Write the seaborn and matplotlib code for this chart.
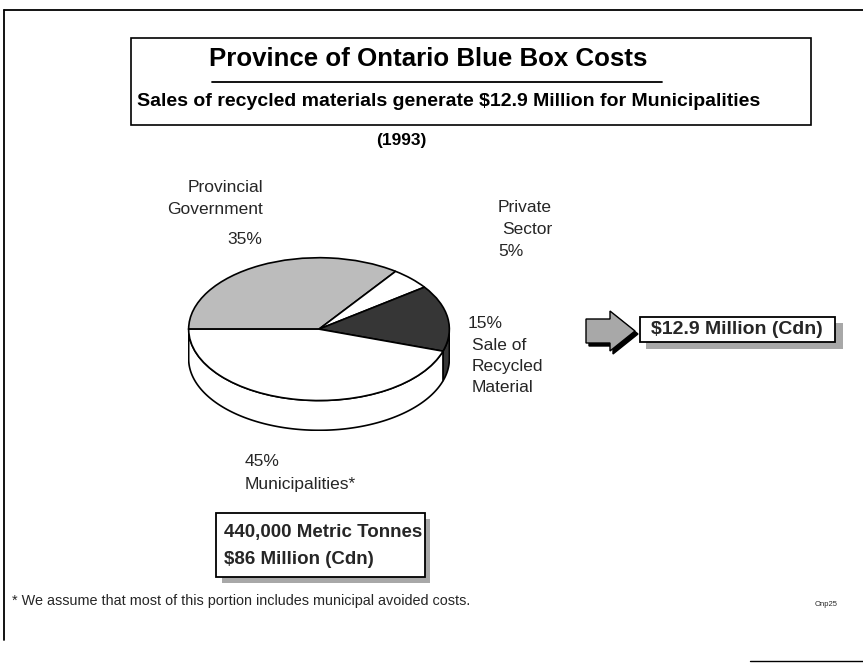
import numpy as np
import matplotlib
matplotlib.use("Agg")
import matplotlib.pyplot as plt
import matplotlib.patches as mpatches
import seaborn as sns

# ---------------- data ----------------
categories = ["Provincial Government", "Private Sector",
              "Sale of Recycled Material", "Municipalities*"]
shares = [35, 5, 15, 45]
label_lines = [["Provincial", "Government"], ["Private", "Sector"],
               ["Sale of", "Recycled", "Material"], ["Municipalities*"]]
title = "Province of Ontario Blue Box Costs"
subtitle = "Sales of recycled materials generate $12.9 Million for Municipalities"
year_text = "(1993)"
muni_box_lines = ["440,000 Metric Tonnes", "$86 Million (Cdn)"]
sale_box_text = "$12.9 Million (Cdn)"
footnote = "* We assume that most of this portion includes municipal avoided costs."
page_code = "Onp25"

# ---------------- style ----------------
sns.set_theme(style="white")
plt.rcParams["font.family"] = ["Liberation Sans", "DejaVu Sans"]
slice_colors = ["#bcbcbc", "#ffffff", "#363636", "#ffffff"]
stipple = "#a8a8a8"

W, H = 863, 667
fig = plt.figure(figsize=(W / 100, H / 100), dpi=100)
fig.patch.set_facecolor("white")

# overlay axes in pixel coordinates
ax = fig.add_axes([0, 0, 1, 1])
ax.set_xlim(0, W)
ax.set_ylim(H, 0)
ax.axis("off")

# outer page frame
ax.plot([4, 4], [10, 640], color="black", lw=1.3)
ax.plot([4, 863], [10, 10], color="black", lw=1.3)
ax.plot([750, 863], [661, 661], color="black", lw=1.0)

# title box
ax.add_patch(mpatches.Rectangle((131, 38), 680, 87, fill=False,
                                edgecolor="black", lw=1.2))
ax.text(428, 59, title, ha="center", va="center", fontsize=18.6,
        fontweight="bold", color="black")
ax.plot([212, 662], [82, 82], color="black", lw=1.3)
ax.text(449, 102, subtitle, ha="center", va="center", fontsize=14,
        fontweight="bold", color="black")
ax.text(401, 141, year_text, ha="center", va="center", fontsize=12.5,
        fontweight="bold", color="black")

# ---------------- 3D pie ----------------
cx, cy, a_px, b_px, depth_px = 319, 329, 131, 72, 30
d = depth_px / b_px
top_px = cy - b_px
bot_px = cy + b_px + depth_px
axp = fig.add_axes([(cx - a_px) / W, 1 - bot_px / H,
                    2 * a_px / W, (bot_px - top_px) / H])
axp.patch.set_alpha(0)
wedges, _ = axp.pie(shares, startangle=180, counterclock=False,
                    colors=slice_colors,
                    wedgeprops=dict(edgecolor="black", linewidth=1.2))
# side walls of the visible (front) half
for w in wedges:
    t = np.radians(np.linspace(w.theta1, w.theta2, 200))
    t = t[np.sin(t) <= 1e-9]
    if t.size < 2:
        continue
    xs = np.concatenate([np.cos(t), np.cos(t[::-1])])
    ys = np.concatenate([np.sin(t), np.sin(t[::-1]) - d])
    axp.add_patch(mpatches.Polygon(np.column_stack([xs, ys]), closed=True,
                                   facecolor=w.get_facecolor(),
                                   edgecolor="black", lw=1.2, zorder=0))
axp.set_aspect("auto")
axp.set_xlim(-1.005, 1.005)
axp.set_ylim(-1 - d - 0.01, 1.01)
axp.axis("off")

# ---------------- labels ----------------
fs = 12.5
pct = [f"{v}%" for v in shares]
# Provincial Government
ax.text(263, 188, label_lines[0][0], ha="right", va="center", fontsize=fs)
ax.text(263, 210, label_lines[0][1], ha="right", va="center", fontsize=fs)
ax.text(262, 240, pct[0], ha="right", va="center", fontsize=fs)
# Private sector
ax.text(498, 208, label_lines[1][0], ha="left", va="center", fontsize=fs)
ax.text(502, 230, label_lines[1][1], ha="left", va="center", fontsize=fs)
ax.text(498, 252, pct[1], ha="left", va="center", fontsize=fs)
# Sale of recycled material
ax.text(468, 323, pct[2], ha="left", va="center", fontsize=fs)
for i, line in enumerate(label_lines[2]):
    ax.text(472, 345 + 21.5 * i, line, ha="left", va="center", fontsize=fs)
# Municipalities
ax.text(245, 462, pct[3], ha="left", va="center", fontsize=fs)
ax.text(245, 484, label_lines[3][0], ha="left", va="center", fontsize=fs)

# municipalities box with stippled shadow
ax.add_patch(mpatches.Rectangle((222, 519), 208, 64, facecolor=stipple,
                                edgecolor="none"))
ax.add_patch(mpatches.Rectangle((216, 513), 209, 64, facecolor="white",
                                edgecolor="black", lw=1.3))
ax.text(224, 533, muni_box_lines[0], ha="left", va="center", fontsize=13.5,
        fontweight="bold")
ax.text(224, 559, muni_box_lines[1], ha="left", va="center", fontsize=13.5,
        fontweight="bold")

# arrow
ax.add_patch(mpatches.FancyArrow(589, 334, 24, 0, width=24, head_width=40,
                                 head_length=25, length_includes_head=False,
                                 facecolor="black", edgecolor="black", lw=1))
ax.add_patch(mpatches.FancyArrow(586, 331, 24, 0, width=24, head_width=40,
                                 head_length=25, length_includes_head=False,
                                 facecolor=stipple, edgecolor="black", lw=1))

# $12.9 million box
ax.add_patch(mpatches.Rectangle((646, 323), 197, 26, facecolor=stipple,
                                edgecolor="none"))
ax.add_patch(mpatches.Rectangle((640, 317), 195, 25, facecolor="white",
                                edgecolor="black", lw=1.3))
ax.text(737, 329.5, sale_box_text, ha="center", va="center", fontsize=14,
        fontweight="bold")

# footnote & page code
ax.text(12, 601, footnote, ha="left", va="center", fontsize=10.4)
ax.text(826, 604, page_code, ha="center", va="center", fontsize=5.5)

fig.savefig("out.png", dpi=100, facecolor="white")
